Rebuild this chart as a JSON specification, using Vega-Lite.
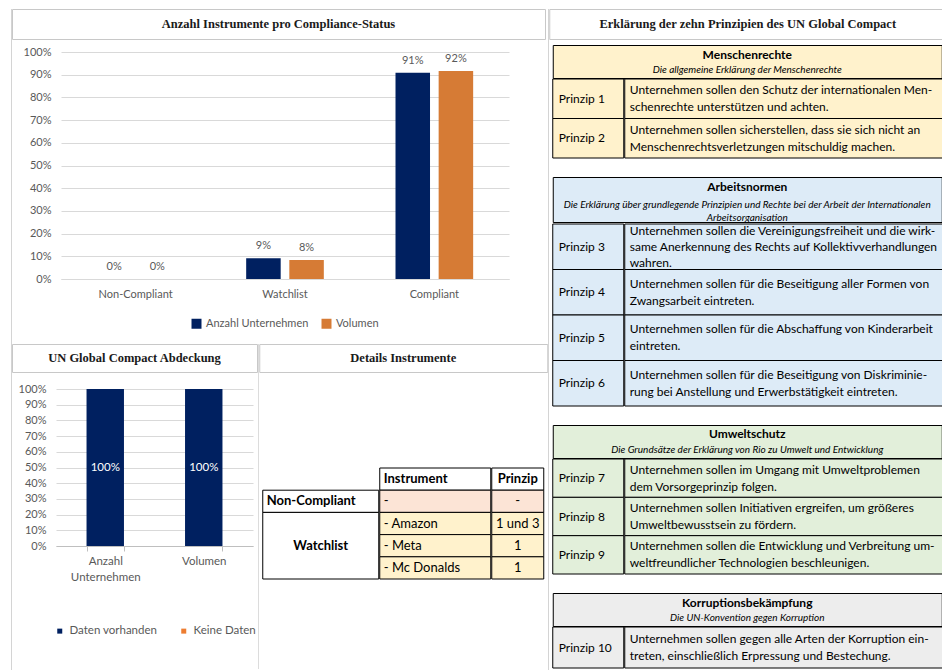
{
  "$schema": "https://vega.github.io/schema/vega-lite/v6.json",
  "background": "white",
  "padding": {"left": 11, "top": 8, "right": 0, "bottom": 0},
  "spacing": -1,
  "resolve": {"scale": {"color": "independent"}, "legend": {"color": "independent"}},
  "datasets": {
    "titel": [
      {"panel": "compliance", "text": "Anzahl Instrumente pro Compliance-Status"},
      {"panel": "abdeckung", "text": "UN Global Compact Abdeckung"},
      {"panel": "details", "text": "Details Instrumente"},
      {"panel": "prinzipien", "text": "Erklärung der zehn Prinzipien des UN Global Compact"}
    ],
    "compliance": [
      {"status": "Non-Compliant", "serie": "Anzahl Unternehmen", "anteil": 0},
      {"status": "Non-Compliant", "serie": "Volumen", "anteil": 0},
      {"status": "Watchlist", "serie": "Anzahl Unternehmen", "anteil": 0.091},
      {"status": "Watchlist", "serie": "Volumen", "anteil": 0.084},
      {"status": "Compliant", "serie": "Anzahl Unternehmen", "anteil": 0.909},
      {"status": "Compliant", "serie": "Volumen", "anteil": 0.916}
    ],
    "abdeckung": [
      {"kategorie": "Anzahl Unternehmen", "serie": "Daten vorhanden", "anteil": 1},
      {"kategorie": "Anzahl Unternehmen", "serie": "Keine Daten", "anteil": 0},
      {"kategorie": "Volumen", "serie": "Daten vorhanden", "anteil": 1},
      {"kategorie": "Volumen", "serie": "Keine Daten", "anteil": 0}
    ],
    "details": [
      {"instrument": "Instrument", "prinzip": "Prinzip", "art": "kopf"},
      {"instrument": "-", "prinzip": "-", "art": "Non-Compliant"},
      {"instrument": "- Amazon", "prinzip": "1 und 3", "art": "Watchlist"},
      {"instrument": "- Meta", "prinzip": "1", "art": "Watchlist"},
      {"instrument": "- Mc Donalds", "prinzip": "1", "art": "Watchlist"}
    ],
    "gruppen": [
      {"status": "Non-Compliant", "von": "-", "mitte": "-", "bis": "-"},
      {"status": "Watchlist", "von": "- Amazon", "mitte": "- Meta", "bis": "- Mc Donalds"}
    ],
    "kopf": [
      {"abschnitt": "Menschenrechte", "teil": "titel", "text": "Menschenrechte"},
      {"abschnitt": "Menschenrechte", "teil": "unter", "text": "Die allgemeine Erklärung der Menschenrechte"},
      {"abschnitt": "Arbeitsnormen", "teil": "titel", "text": "Arbeitsnormen"},
      {"abschnitt": "Arbeitsnormen", "teil": "unter", "text": "Die Erklärung über grundlegende Prinzipien und Rechte bei der Arbeit der Internationalen\nArbeitsorganisation"},
      {"abschnitt": "Umweltschutz", "teil": "titel", "text": "Umweltschutz"},
      {"abschnitt": "Umweltschutz", "teil": "unter", "text": "Die Grundsätze der Erklärung von Rio zu Umwelt und Entwicklung"},
      {"abschnitt": "Korruptionsbekämpfung", "teil": "titel", "text": "Korruptionsbekämpfung"},
      {"abschnitt": "Korruptionsbekämpfung", "teil": "unter", "text": "Die UN-Konvention gegen Korruption"}
    ],
    "prinzipien": [
      {"abschnitt": "Menschenrechte", "prinzip": "Prinzip 1", "text": "Unternehmen sollen den Schutz der internationalen Men-\nschenrechte unterstützen und achten."},
      {"abschnitt": "Menschenrechte", "prinzip": "Prinzip 2", "text": "Unternehmen sollen sicherstellen, dass sie sich nicht an\nMenschenrechtsverletzungen mitschuldig machen."},
      {"abschnitt": "Arbeitsnormen", "prinzip": "Prinzip 3", "text": "Unternehmen sollen die Vereinigungsfreiheit und die wirk-\nsame Anerkennung des Rechts auf Kollektivverhandlungen\nwahren."},
      {"abschnitt": "Arbeitsnormen", "prinzip": "Prinzip 4", "text": "Unternehmen sollen für die Beseitigung aller Formen von\nZwangsarbeit eintreten."},
      {"abschnitt": "Arbeitsnormen", "prinzip": "Prinzip 5", "text": "Unternehmen sollen für die Abschaffung von Kinderarbeit\neintreten."},
      {"abschnitt": "Arbeitsnormen", "prinzip": "Prinzip 6", "text": "Unternehmen sollen für die Beseitigung von Diskriminie-\nrung bei Anstellung und Erwerbstätigkeit eintreten."},
      {"abschnitt": "Umweltschutz", "prinzip": "Prinzip 7", "text": "Unternehmen sollen im Umgang mit Umweltproblemen\ndem Vorsorgeprinzip folgen."},
      {"abschnitt": "Umweltschutz", "prinzip": "Prinzip 8", "text": "Unternehmen sollen Initiativen ergreifen, um größeres\nUmweltbewusstsein zu fördern."},
      {"abschnitt": "Umweltschutz", "prinzip": "Prinzip 9", "text": "Unternehmen sollen die Entwicklung und Verbreitung um-\nweltfreundlicher Technologien beschleunigen."},
      {"abschnitt": "Korruptionsbekämpfung", "prinzip": "Prinzip 10", "text": "Unternehmen sollen gegen alle Arten der Korruption ein-\ntreten, einschließlich Erpressung und Bestechung."}
    ]
  },
  "hconcat": [
    {
      "width": 1, "height": 662,
      "view": {"fill": "#d4d4d4"},
      "data": {"name": "titel"},
      "transform": [{"filter": "false"}],
      "mark": {"type": "text"},
      "encoding": {"text": {"field": "text", "type": "nominal"}}
    },
    {
      "spacing": 6,
      "resolve": {"scale": {"color": "independent"}, "legend": {"color": "independent"}},
      "vconcat": [
        {
          "width": 533, "height": 30,
          "view": {"stroke": "#c8c8c8"},
          "data": {"name": "titel"},
          "transform": [{"filter": "datum.panel === 'compliance'"}],
          "mark": {"type": "text", "font": "Liberation Serif", "fontSize": 12.5, "fontWeight": "bold", "color": "#1a1a1a"},
          "encoding": {"text": {"field": "text", "type": "nominal"}}
        },
        {
          "spacing": 0,
          "resolve": {"scale": {"color": "independent"}, "legend": {"color": "independent"}},
          "hconcat": [
            {
              "width": 1, "height": 1,
              "data": {"name": "titel"},
              "transform": [{"filter": "false"}],
              "mark": {"type": "text"},
              "encoding": {"text": {"field": "text", "type": "nominal"}}
            },
            {
              "width": 448, "height": 227,
              "data": {"name": "compliance"},
              "encoding": {
                "x": {"field": "status", "type": "nominal", "sort": ["Non-Compliant", "Watchlist", "Compliant"], "title": null,
                  "scale": {"paddingInner": 0.48, "paddingOuter": 0.24},
                  "axis": {"labelAngle": 0, "labelColor": "#595959", "labelFont": "Lato", "labelFontSize": 11, "labelPadding": 9, "ticks": false, "domainColor": "#d9d9d9"}},
                "xOffset": {"field": "serie", "type": "nominal", "sort": ["Anzahl Unternehmen", "Volumen"], "scale": {"paddingInner": 0.2}},
                "y": {"field": "anteil", "type": "quantitative", "title": null, "scale": {"domain": [0, 1]},
                  "axis": {"values": [0, 0.1, 0.2, 0.3, 0.4, 0.5, 0.6, 0.7, 0.8, 0.9, 1], "format": ".0%", "domain": false, "ticks": false, "labelColor": "#595959", "labelFont": "Lato", "labelFontSize": 11, "labelPadding": 10, "gridColor": "#d9d9d9", "minExtent": 48, "maxExtent": 48}}
              },
              "layer": [
                {
                  "mark": {"type": "bar"},
                  "encoding": {
                    "color": {"field": "serie", "type": "nominal", "sort": ["Anzahl Unternehmen", "Volumen"],
                      "scale": {"domain": ["Anzahl Unternehmen", "Volumen"], "range": ["#002060", "#d67b35"]},
                      "legend": {"orient": "bottom", "direction": "horizontal", "title": null, "symbolType": "square", "symbolSize": 100, "symbolStrokeWidth": 0, "labelFont": "Lato", "labelFontSize": 11, "labelColor": "#595959", "offset": 11, "padding": 8, "columnPadding": 12}}
                  }
                },
                {
                  "mark": {"type": "text", "baseline": "bottom", "dy": -7, "font": "Lato", "fontSize": 11, "color": "#595959"},
                  "encoding": {"text": {"field": "anteil", "type": "quantitative", "format": ".0%"}}
                }
              ]
            }
          ]
        },
        {
          "spacing": -1,
          "resolve": {"scale": {"color": "independent"}, "legend": {"color": "independent"}},
          "hconcat": [
            {
              "spacing": 10,
              "resolve": {"scale": {"color": "independent"}, "legend": {"color": "independent"}},
              "vconcat": [
                {
                  "width": 245, "height": 28,
                  "view": {"stroke": "#c8c8c8"},
                  "data": {"name": "titel"},
                  "transform": [{"filter": "datum.panel === 'abdeckung'"}],
                  "mark": {"type": "text", "font": "Liberation Serif", "fontSize": 12.5, "fontWeight": "bold", "color": "#1a1a1a"},
                  "encoding": {"text": {"field": "text", "type": "nominal"}}
                },
                {
                  "spacing": 0,
                  "resolve": {"scale": {"color": "independent"}, "legend": {"color": "independent"}},
                  "hconcat": [
                    {
                      "width": 1, "height": 1,
                      "data": {"name": "titel"},
                      "transform": [{"filter": "false"}],
                      "mark": {"type": "text"},
                      "encoding": {"text": {"field": "text", "type": "nominal"}}
                    },
                    {
                      "width": 197, "height": 157,
                      "data": {"name": "abdeckung"},
                      "encoding": {
                        "x": {"field": "kategorie", "type": "nominal", "sort": ["Anzahl Unternehmen", "Volumen"], "title": null,
                          "scale": {"paddingInner": 0.62, "paddingOuter": 0.31},
                          "axis": {"labelAngle": 0, "labelExpr": "split(datum.label, ' ')", "labelLineHeight": 16, "labelBaseline": "top", "labelColor": "#595959", "labelFont": "Lato", "labelFontSize": 11.5, "labelPadding": 4, "ticks": true, "tickBand": "extent", "tickSize": 5, "tickColor": "#bfbfbf", "domainColor": "#bfbfbf"}},
                        "y": {"field": "anteil", "type": "quantitative", "stack": "zero", "title": null, "scale": {"domain": [0, 1]},
                          "axis": {"values": [0, 0.1, 0.2, 0.3, 0.4, 0.5, 0.6, 0.7, 0.8, 0.9, 1], "format": ".0%", "domain": false, "ticks": false, "labelColor": "#595959", "labelFont": "Lato", "labelFontSize": 11, "labelPadding": 10, "gridColor": "#d9d9d9", "minExtent": 43, "maxExtent": 43}}
                      },
                      "layer": [
                        {
                          "mark": {"type": "bar"},
                          "encoding": {
                            "color": {"field": "serie", "type": "nominal", "sort": ["Daten vorhanden", "Keine Daten"],
                              "scale": {"domain": ["Daten vorhanden", "Keine Daten"], "range": ["#002060", "#ed7d31"]},
                              "legend": {"orient": "bottom", "direction": "horizontal", "title": null, "symbolType": "square", "symbolSize": 25, "symbolStrokeWidth": 0, "labelFont": "Lato", "labelFontSize": 11.5, "labelColor": "#595959", "offset": 42, "columnPadding": 20}}
                          }
                        },
                        {
                          "transform": [{"filter": "datum.serie === 'Daten vorhanden'"}],
                          "mark": {"type": "text", "color": "#ffffff", "font": "Lato", "fontSize": 11.5},
                          "encoding": {
                            "y": {"field": "anteil", "type": "quantitative", "stack": "zero", "bandPosition": 0.5},
                            "text": {"field": "anteil", "type": "quantitative", "format": ".0%"}
                          }
                        }
                      ]
                    }
                  ]
                }
              ]
            },
            {
              "width": 1, "height": 325,
              "view": {"fill": "#dcdcdc"},
              "data": {"name": "titel"},
              "transform": [{"filter": "false"}],
              "mark": {"type": "text"},
              "encoding": {"text": {"field": "text", "type": "nominal"}}
            },
            {
              "spacing": 94,
              "center": true,
              "vconcat": [
                {
                  "width": 288, "height": 28,
                  "view": {"stroke": "#c8c8c8"},
                  "data": {"name": "titel"},
                  "transform": [{"filter": "datum.panel === 'details'"}],
                  "mark": {"type": "text", "font": "Liberation Serif", "fontSize": 12.5, "fontWeight": "bold", "color": "#1a1a1a"},
                  "encoding": {"text": {"field": "text", "type": "nominal"}}
                },
                {
                  "spacing": -1.5,
                  "hconcat": [
                    {
                      "width": 116, "height": 111,
                      "data": {"name": "gruppen"},
                      "encoding": {
                        "y": {"field": "von", "type": "nominal", "bandPosition": 0, "axis": null,
                          "scale": {"domain": ["Instrument", "-", "- Amazon", "- Meta", "- Mc Donalds"], "paddingInner": 0, "paddingOuter": 0}}
                      },
                      "layer": [
                        {
                          "mark": {"type": "rect", "fill": "#ffffff", "stroke": "#000000", "strokeWidth": 1},
                          "encoding": {"y2": {"field": "bis", "bandPosition": 1}}
                        },
                        {
                          "transform": [{"filter": "datum.status === 'Non-Compliant'"}],
                          "mark": {"type": "text", "align": "left", "dx": 4, "font": "Lato", "fontSize": 13, "fontWeight": "bold", "color": "#000000"},
                          "encoding": {
                            "x": {"datum": "Status", "type": "nominal", "axis": null, "scale": {"type": "point", "padding": 0, "align": 0}},
                            "y": {"field": "mitte", "type": "nominal", "bandPosition": 0.5},
                            "text": {"field": "status", "type": "nominal"}
                          }
                        },
                        {
                          "transform": [{"filter": "datum.status === 'Watchlist'"}],
                          "mark": {"type": "text", "font": "Lato", "fontSize": 13, "fontWeight": "bold", "color": "#000000"},
                          "encoding": {
                            "y": {"field": "mitte", "type": "nominal", "bandPosition": 0.5},
                            "text": {"field": "status", "type": "nominal"}
                          }
                        }
                      ]
                    },
                    {
                      "width": 111, "height": 111,
                      "data": {"name": "details"},
                      "encoding": {
                        "y": {"field": "instrument", "type": "nominal", "axis": null,
                          "scale": {"domain": ["Instrument", "-", "- Amazon", "- Meta", "- Mc Donalds"], "paddingInner": 0, "paddingOuter": 0}}
                      },
                      "layer": [
                        {
                          "mark": {"type": "rect", "stroke": "#000000", "strokeWidth": 1},
                          "encoding": {"fill": {"field": "art", "type": "nominal", "scale": {"domain": ["kopf", "Non-Compliant", "Watchlist"], "range": ["#ffffff", "#fce4d6", "#fff2cc"]}, "legend": null}}
                        },
                        {
                          "transform": [{"filter": "datum.art === 'kopf'"}],
                          "mark": {"type": "text", "align": "left", "dx": 4, "font": "Lato", "fontSize": 13, "fontWeight": "bold", "color": "#000000"},
                          "encoding": {
                            "x": {"datum": "Instrument", "type": "nominal", "axis": null, "scale": {"type": "point", "padding": 0, "align": 0}},
                            "text": {"field": "instrument", "type": "nominal"}
                          }
                        },
                        {
                          "transform": [{"filter": "datum.art !== 'kopf'"}],
                          "mark": {"type": "text", "align": "left", "dx": 4, "font": "Lato", "fontSize": 13, "color": "#000000"},
                          "encoding": {
                            "x": {"datum": "Instrument", "type": "nominal", "axis": null, "scale": {"type": "point", "padding": 0, "align": 0}},
                            "text": {"field": "instrument", "type": "nominal"}
                          }
                        }
                      ]
                    },
                    {
                      "width": 52, "height": 111,
                      "data": {"name": "details"},
                      "encoding": {
                        "y": {"field": "instrument", "type": "nominal", "axis": null,
                          "scale": {"domain": ["Instrument", "-", "- Amazon", "- Meta", "- Mc Donalds"], "paddingInner": 0, "paddingOuter": 0}}
                      },
                      "layer": [
                        {
                          "mark": {"type": "rect", "stroke": "#000000", "strokeWidth": 1},
                          "encoding": {"fill": {"field": "art", "type": "nominal", "scale": {"domain": ["kopf", "Non-Compliant", "Watchlist"], "range": ["#ffffff", "#fce4d6", "#fff2cc"]}, "legend": null}}
                        },
                        {
                          "transform": [{"filter": "datum.art === 'kopf'"}],
                          "mark": {"type": "text", "font": "Lato", "fontSize": 13, "fontWeight": "bold", "color": "#000000"},
                          "encoding": {"text": {"field": "prinzip", "type": "nominal"}}
                        },
                        {
                          "transform": [{"filter": "datum.art !== 'kopf'"}],
                          "mark": {"type": "text", "font": "Lato", "fontSize": 13, "color": "#000000"},
                          "encoding": {"text": {"field": "prinzip", "type": "nominal"}}
                        }
                      ]
                    }
                  ]
                }
              ]
            }
          ]
        }
      ]
    },
    {
      "width": 1, "height": 662,
      "view": {"fill": "#d4d4d4"},
      "data": {"name": "titel"},
      "transform": [{"filter": "false"}],
      "mark": {"type": "text"},
      "encoding": {"text": {"field": "text", "type": "nominal"}}
    },
    {
      "spacing": 4,
      "center": true,
      "vconcat": [
        {
          "width": 397, "height": 30,
          "view": {"stroke": "#c8c8c8"},
          "data": {"name": "titel"},
          "transform": [{"filter": "datum.panel === 'prinzipien'"}],
          "mark": {"type": "text", "font": "Liberation Serif", "fontSize": 12.5, "fontWeight": "bold", "color": "#1a1a1a"},
          "encoding": {"text": {"field": "text", "type": "nominal"}}
        },
        {
          "spacing": 17,
          "vconcat": [
            {
              "spacing": -1.5,
              "vconcat": [
                {
                  "width": 389, "height": 33,
                  "view": {"fill": "#fff2cc", "stroke": "#000000"},
                  "data": {"name": "kopf"},
                  "transform": [{"filter": "datum.abschnitt === 'Menschenrechte'"}],
                  "encoding": {"y": {"field": "teil", "type": "nominal", "sort": ["titel", "unter"], "axis": null, "scale": {"paddingInner": 0, "paddingOuter": 0}}, "text": {"field": "text", "type": "nominal"}},
                  "layer": [
                    {"transform": [{"filter": "datum.teil === 'titel'"}], "mark": {"type": "text", "dy": 2, "font": "Lato", "fontSize": 12, "fontWeight": "bold", "color": "#000000"}},
                    {"transform": [{"filter": "datum.teil === 'unter'"}], "mark": {"type": "text", "dy": 0.5, "font": "Lato", "fontSize": 10, "fontStyle": "italic", "lineBreak": "\n", "lineHeight": 12, "color": "#000000"}}
                  ]
                },
                {
                  "spacing": -1.5,
                  "hconcat": [
                    {
                      "width": 71, "height": 79,
                      "data": {"name": "prinzipien"},
                      "transform": [{"filter": "datum.abschnitt === 'Menschenrechte'"}],
                      "encoding": {"y": {"field": "prinzip", "type": "nominal", "sort": null, "axis": null, "scale": {"paddingInner": 0, "paddingOuter": 0}}},
                      "layer": [
                        {"mark": {"type": "rect", "fill": "#fff2cc", "stroke": "#000000", "strokeWidth": 1}},
                        {"mark": {"type": "text", "align": "left", "dx": 6, "font": "Lato", "fontSize": 12, "color": "#000000"},
                          "encoding": {"x": {"datum": "Prinzip", "type": "nominal", "axis": null, "scale": {"type": "point", "padding": 0, "align": 0}}, "text": {"field": "prinzip", "type": "nominal"}}}
                      ]
                    },
                    {
                      "width": 318, "height": 79,
                      "data": {"name": "prinzipien"},
                      "transform": [{"filter": "datum.abschnitt === 'Menschenrechte'"}],
                      "encoding": {"y": {"field": "prinzip", "type": "nominal", "sort": null, "axis": null, "scale": {"paddingInner": 0, "paddingOuter": 0}}},
                      "layer": [
                        {"mark": {"type": "rect", "fill": "#fff2cc", "stroke": "#000000", "strokeWidth": 1}},
                        {"mark": {"type": "text", "align": "left", "dx": 5, "dy": -8.5, "font": "Lato", "fontSize": 12, "lineBreak": "\n", "lineHeight": 17, "color": "#000000"},
                          "encoding": {"x": {"datum": "Text", "type": "nominal", "axis": null, "scale": {"type": "point", "padding": 0, "align": 0}}, "text": {"field": "text", "type": "nominal"}}}
                      ]
                    }
                  ]
                }
              ]
            },
            {
              "spacing": -1.5,
              "vconcat": [
                {
                  "width": 389, "height": 45,
                  "view": {"fill": "#ddebf7", "stroke": "#000000"},
                  "data": {"name": "kopf"},
                  "transform": [{"filter": "datum.abschnitt === 'Arbeitsnormen'"}],
                  "encoding": {"y": {"field": "teil", "type": "nominal", "sort": ["titel", "unter"], "axis": null, "scale": {"paddingInner": 0, "paddingOuter": 0}}, "text": {"field": "text", "type": "nominal"}},
                  "layer": [
                    {"transform": [{"filter": "datum.teil === 'titel'"}], "mark": {"type": "text", "dy": -1.5, "font": "Lato", "fontSize": 12, "fontWeight": "bold", "color": "#000000"}},
                    {"transform": [{"filter": "datum.teil === 'unter'"}], "mark": {"type": "text", "dy": -5.5, "font": "Lato", "fontSize": 10, "fontStyle": "italic", "lineBreak": "\n", "lineHeight": 13, "color": "#000000"}}
                  ]
                },
                {
                  "spacing": -1.5,
                  "hconcat": [
                    {
                      "width": 71, "height": 182,
                      "data": {"name": "prinzipien"},
                      "transform": [{"filter": "datum.abschnitt === 'Arbeitsnormen'"}],
                      "encoding": {"y": {"field": "prinzip", "type": "nominal", "sort": null, "axis": null, "scale": {"paddingInner": 0, "paddingOuter": 0}}},
                      "layer": [
                        {"mark": {"type": "rect", "fill": "#ddebf7", "stroke": "#000000", "strokeWidth": 1}},
                        {"mark": {"type": "text", "align": "left", "dx": 6, "font": "Lato", "fontSize": 12, "color": "#000000"},
                          "encoding": {"x": {"datum": "Prinzip", "type": "nominal", "axis": null, "scale": {"type": "point", "padding": 0, "align": 0}}, "text": {"field": "prinzip", "type": "nominal"}}}
                      ]
                    },
                    {
                      "width": 318, "height": 182,
                      "data": {"name": "prinzipien"},
                      "transform": [{"filter": "datum.abschnitt === 'Arbeitsnormen'"}],
                      "encoding": {"y": {"field": "prinzip", "type": "nominal", "sort": null, "axis": null, "scale": {"paddingInner": 0, "paddingOuter": 0}}},
                      "layer": [
                        {"mark": {"type": "rect", "fill": "#ddebf7", "stroke": "#000000", "strokeWidth": 1}},
                        {"transform": [{"filter": "split(datum.text, '\\n').length === 3"}],
                          "mark": {"type": "text", "align": "left", "dx": 5, "dy": -16, "font": "Lato", "fontSize": 12, "lineBreak": "\n", "lineHeight": 16, "color": "#000000"},
                          "encoding": {"x": {"datum": "Text", "type": "nominal", "axis": null, "scale": {"type": "point", "padding": 0, "align": 0}}, "text": {"field": "text", "type": "nominal"}}},
                        {"transform": [{"filter": "split(datum.text, '\\n').length !== 3"}],
                          "mark": {"type": "text", "align": "left", "dx": 5, "dy": -8.5, "font": "Lato", "fontSize": 12, "lineBreak": "\n", "lineHeight": 17, "color": "#000000"},
                          "encoding": {"x": {"datum": "Text", "type": "nominal", "axis": null, "scale": {"type": "point", "padding": 0, "align": 0}}, "text": {"field": "text", "type": "nominal"}}}
                      ]
                    }
                  ]
                }
              ]
            },
            {
              "spacing": -1.5,
              "vconcat": [
                {
                  "width": 389, "height": 33,
                  "view": {"fill": "#e2efda", "stroke": "#000000"},
                  "data": {"name": "kopf"},
                  "transform": [{"filter": "datum.abschnitt === 'Umweltschutz'"}],
                  "encoding": {"y": {"field": "teil", "type": "nominal", "sort": ["titel", "unter"], "axis": null, "scale": {"paddingInner": 0, "paddingOuter": 0}}, "text": {"field": "text", "type": "nominal"}},
                  "layer": [
                    {"transform": [{"filter": "datum.teil === 'titel'"}], "mark": {"type": "text", "dy": 1, "font": "Lato", "fontSize": 12, "fontWeight": "bold", "color": "#000000"}},
                    {"transform": [{"filter": "datum.teil === 'unter'"}], "mark": {"type": "text", "dy": 0.5, "font": "Lato", "fontSize": 10, "fontStyle": "italic", "lineBreak": "\n", "lineHeight": 12, "color": "#000000"}}
                  ]
                },
                {
                  "spacing": -1.5,
                  "hconcat": [
                    {
                      "width": 71, "height": 115,
                      "data": {"name": "prinzipien"},
                      "transform": [{"filter": "datum.abschnitt === 'Umweltschutz'"}],
                      "encoding": {"y": {"field": "prinzip", "type": "nominal", "sort": null, "axis": null, "scale": {"paddingInner": 0, "paddingOuter": 0}}},
                      "layer": [
                        {"mark": {"type": "rect", "fill": "#e2efda", "stroke": "#000000", "strokeWidth": 1}},
                        {"mark": {"type": "text", "align": "left", "dx": 6, "font": "Lato", "fontSize": 12, "color": "#000000"},
                          "encoding": {"x": {"datum": "Prinzip", "type": "nominal", "axis": null, "scale": {"type": "point", "padding": 0, "align": 0}}, "text": {"field": "prinzip", "type": "nominal"}}}
                      ]
                    },
                    {
                      "width": 318, "height": 115,
                      "data": {"name": "prinzipien"},
                      "transform": [{"filter": "datum.abschnitt === 'Umweltschutz'"}],
                      "encoding": {"y": {"field": "prinzip", "type": "nominal", "sort": null, "axis": null, "scale": {"paddingInner": 0, "paddingOuter": 0}}},
                      "layer": [
                        {"mark": {"type": "rect", "fill": "#e2efda", "stroke": "#000000", "strokeWidth": 1}},
                        {"mark": {"type": "text", "align": "left", "dx": 5, "dy": -8.5, "font": "Lato", "fontSize": 12, "lineBreak": "\n", "lineHeight": 17, "color": "#000000"},
                          "encoding": {"x": {"datum": "Text", "type": "nominal", "axis": null, "scale": {"type": "point", "padding": 0, "align": 0}}, "text": {"field": "text", "type": "nominal"}}}
                      ]
                    }
                  ]
                }
              ]
            },
            {
              "spacing": -1.5,
              "vconcat": [
                {
                  "width": 389, "height": 33,
                  "view": {"fill": "#ededed", "stroke": "#000000"},
                  "data": {"name": "kopf"},
                  "transform": [{"filter": "datum.abschnitt === 'Korruptionsbekämpfung'"}],
                  "encoding": {"y": {"field": "teil", "type": "nominal", "sort": ["titel", "unter"], "axis": null, "scale": {"paddingInner": 0, "paddingOuter": 0}}, "text": {"field": "text", "type": "nominal"}},
                  "layer": [
                    {"transform": [{"filter": "datum.teil === 'titel'"}], "mark": {"type": "text", "dy": 1.5, "font": "Lato", "fontSize": 12, "fontWeight": "bold", "color": "#000000"}},
                    {"transform": [{"filter": "datum.teil === 'unter'"}], "mark": {"type": "text", "dy": 0.5, "font": "Lato", "fontSize": 10, "fontStyle": "italic", "lineBreak": "\n", "lineHeight": 12, "color": "#000000"}}
                  ]
                },
                {
                  "spacing": -1.5,
                  "hconcat": [
                    {
                      "width": 71, "height": 41,
                      "data": {"name": "prinzipien"},
                      "transform": [{"filter": "datum.abschnitt === 'Korruptionsbekämpfung'"}],
                      "encoding": {"y": {"field": "prinzip", "type": "nominal", "sort": null, "axis": null, "scale": {"paddingInner": 0, "paddingOuter": 0}}},
                      "layer": [
                        {"mark": {"type": "rect", "fill": "#ededed", "stroke": "#000000", "strokeWidth": 1}},
                        {"mark": {"type": "text", "align": "left", "dx": 6, "font": "Lato", "fontSize": 12, "color": "#000000"},
                          "encoding": {"x": {"datum": "Prinzip", "type": "nominal", "axis": null, "scale": {"type": "point", "padding": 0, "align": 0}}, "text": {"field": "prinzip", "type": "nominal"}}}
                      ]
                    },
                    {
                      "width": 318, "height": 41,
                      "data": {"name": "prinzipien"},
                      "transform": [{"filter": "datum.abschnitt === 'Korruptionsbekämpfung'"}],
                      "encoding": {"y": {"field": "prinzip", "type": "nominal", "sort": null, "axis": null, "scale": {"paddingInner": 0, "paddingOuter": 0}}},
                      "layer": [
                        {"mark": {"type": "rect", "fill": "#ededed", "stroke": "#000000", "strokeWidth": 1}},
                        {"mark": {"type": "text", "align": "left", "dx": 5, "dy": -8.5, "font": "Lato", "fontSize": 12, "lineBreak": "\n", "lineHeight": 17, "color": "#000000"},
                          "encoding": {"x": {"datum": "Text", "type": "nominal", "axis": null, "scale": {"type": "point", "padding": 0, "align": 0}}, "text": {"field": "text", "type": "nominal"}}}
                      ]
                    }
                  ]
                }
              ]
            }
          ]
        }
      ]
    }
  ],
  "config": {
    "view": {"stroke": null},
    "font": "Lato",
    "legend": {"layout": {"bottom": {"anchor": "middle"}}}
  }
}
